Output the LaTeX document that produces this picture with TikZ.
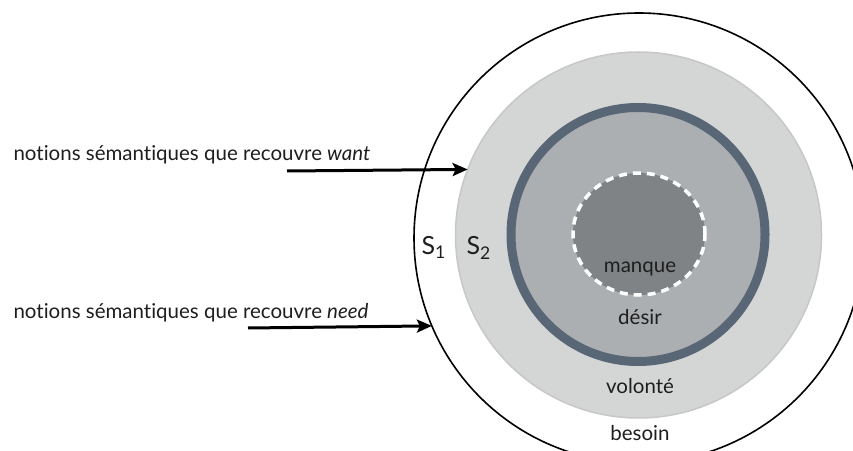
\documentclass[tikz,border=0pt]{standalone}
\usepackage{fontspec}
\setmainfont{Lato}[Ligatures=NoCommon]
\usetikzlibrary{arrows.meta}
\definecolor{ringpale}{RGB}{212,214,214}
\definecolor{ringmid}{RGB}{172,175,177}
\definecolor{ringdark}{RGB}{127,131,133}
\definecolor{slate}{RGB}{89,102,117}
\definecolor{inkgrey}{RGB}{30,30,30}

\begin{document}
\begin{tikzpicture}[x=1pt, y=1pt, font=\fontsize{20.5}{24}\selectfont, color=inkgrey,
  zone/.style={circle, inner sep=0pt, outer sep=0pt},
  zonelabel/.style={anchor=base, font=\fontsize{20.5}{24}\selectfont},
  pointer/.style={line width=3pt, black, -{Stealth[length=15pt, width=13pt, inset=3pt]}}]
\clip (0,0) rectangle (853,450);

% ---- outer field S1 (besoin) ----
\node[zone, draw=black, line width=1.6pt, minimum size=450pt] (s1) at (639,212) {};

% ---- field S2 (volonte) ----
\node[zone, fill=ringpale, draw=black!22, line width=1.5pt, minimum size=366pt] (s2) at (638.5,215) {};

% ---- desir, with slate ring ----
\fill[ringmid] (638,215.5) circle (127);
\draw[slate, line width=9pt] (638,215.5) circle (127);

% ---- manque, dashed ----
\fill[ringdark] (639,216) ellipse (66 and 61);
\draw[white, line width=3.5pt, dash pattern=on 8pt off 6pt] (639,216) ellipse (66 and 61);

% ---- zone names ----
\node[zonelabel] (manque) at (640,177) {manque};
\node[zonelabel] (desir) at (640,126) {désir};
\node[zonelabel] (volonte) at (640,57) {volonté};
\node[zonelabel] (besoin) at (640,10) {besoin};
\node[anchor=base west, font=\fontsize{25}{28}\selectfont] (lbls1) at (418,195) {S\textsubscript{1}};
\node[anchor=base west, font=\fontsize{25}{28}\selectfont] (lbls2) at (463,195) {S\textsubscript{2}};

% ---- what want / need cover ----
\node[anchor=base west] (wanttext) at (10,289) {notions sémantiques que recouvre \textit{want}};
\node[anchor=base west] (needtext) at (10,132) {notions sémantiques que recouvre \textit{need}};
\coordinate (wantfrom) at (287,279);
\coordinate (needfrom) at (248,122);
\draw[pointer] (wantfrom) -- (s2.159.5);
\draw[pointer] (needfrom) -- (s1.203.6);
\end{tikzpicture}
\end{document}
